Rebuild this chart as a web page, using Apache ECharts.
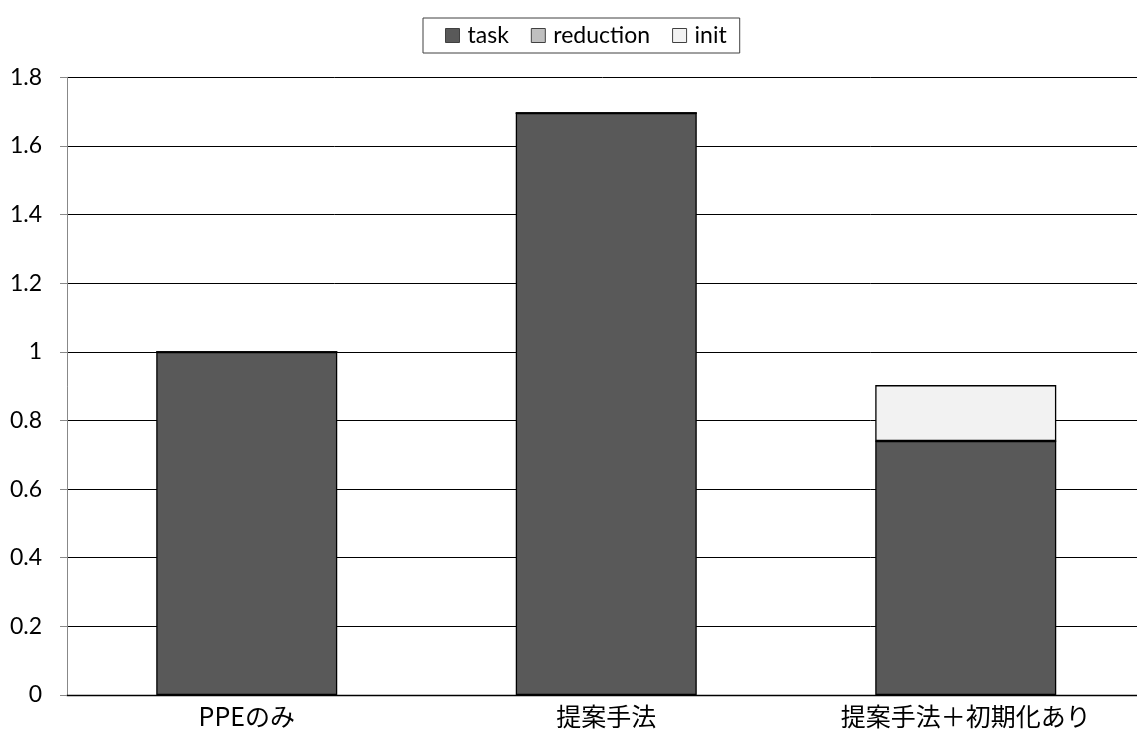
<!DOCTYPE html>
<html><head><meta charset="utf-8">
<script src="https://cdn.jsdelivr.net/npm/echarts@6/dist/echarts.min.js"></script>
<style>html,body{margin:0;padding:0;background:#fff}#c{width:1137px;height:729px}</style>
</head><body><div id="c"></div>
<script>
const categories = ['PPEのみ', '提案手法', '提案手法＋初期化あり'];
const taskValues = [1.0, 1.696, 0.740];
const reductionValues = [0, 0, 0];
const initValues = [0, 0, 0.163];
const yTicks = [0, 0.2, 0.4, 0.6, 0.8, 1, 1.2, 1.4, 1.6, 1.8];

const font = "Lato, 'Noto Sans CJK JP', sans-serif";
const chart = echarts.init(document.getElementById('c'));
function ser(name, data, color) {
  return {
    name, type: 'bar', stack: 'all', data, barWidth: 181,
    itemStyle: { color, borderColor: '#000', borderWidth: 1.3 },
    emphasis: { disabled: true }
  };
}
chart.setOption({
  animation: false,
  textStyle: { fontFamily: font },
  legend: {
    top: 18, left: 423,
    data: ['task', 'reduction', 'init'],
    icon: 'rect', itemWidth: 14, itemHeight: 14, itemGap: 22,
    padding: [6, 13, 6, 22],
    borderColor: '#404040', borderWidth: 1,
    itemStyle: { borderColor: '#404040', borderWidth: 1 },
    textStyle: { fontSize: 23, color: '#000', fontFamily: font, padding: [0, 0, 0, 3] }
  },
  grid: { left: 67, top: 77.3, width: 1078.5, height: 617.7, outerBoundsMode: 'none', containLabel: false },
  xAxis: {
    type: 'category', data: categories,
    axisLine: { lineStyle: { color: '#000', width: 1.3 } },
    axisTick: { show: false },
    axisLabel: { fontSize: 25, color: '#000', margin: 9, fontFamily: "'Noto Sans CJK JP', sans-serif" }
  },
  yAxis: {
    type: 'value', min: 0, max: 1.8, interval: 0.2,
    axisLine: { show: true, lineStyle: { color: '#888', width: 1 } },
    axisTick: { show: true, length: 7, lineStyle: { color: '#888' } },
    splitLine: { lineStyle: { color: '#000', width: 1 } },
    axisLabel: { fontSize: 23, color: '#000', margin: 25, fontFamily: font,
      formatter: v => String(Math.round(v * 10) / 10) }
  },
  series: [
    ser('task', taskValues, '#595959'),
    ser('reduction', reductionValues, '#bfbfbf'),
    ser('init', initValues, '#f2f2f2')
  ]
});
</script></body></html>
